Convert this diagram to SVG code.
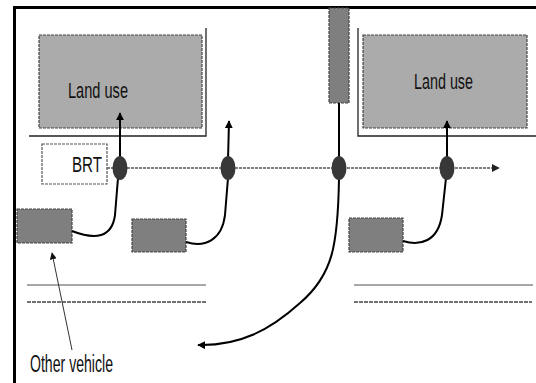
<svg xmlns="http://www.w3.org/2000/svg" width="536" height="383" viewBox="0 0 536 383">
<defs>
<marker id="ah" viewBox="0 0 10 10" refX="9" refY="5" markerWidth="4" markerHeight="4" orient="auto" markerUnits="strokeWidth">
<path d="M0,0 L10,5 L0,10 Z" fill="#000"/>
</marker>
<marker id="ahs" viewBox="0 0 10 10" refX="9" refY="5" markerWidth="7" markerHeight="7" orient="auto" markerUnits="strokeWidth">
<path d="M0,0 L10,5 L0,10 Z" fill="#111"/>
</marker>
<marker id="aht" viewBox="0 0 10 10" refX="9" refY="5" markerWidth="8" markerHeight="8" orient="auto" markerUnits="userSpaceOnUse">
<path d="M0,0 L10,5 L0,10 Z" fill="#222"/>
</marker>
</defs>
<style>
.land{fill:#ababab;stroke:#444;stroke-width:1.2;stroke-dasharray:3 1}
.veh{fill:#7f7f7f;stroke:#444;stroke-width:1.2;stroke-dasharray:3 1}
.dot{fill:#383838}
.lbl{font-family:"Liberation Sans",Arial,sans-serif;fill:#111}
.edge{fill:none;stroke:#000;stroke-width:2}
.thin{fill:none;stroke:#333;stroke-width:1}
.road1{stroke:#8a8a8a;stroke-width:1.5}
.road2{stroke:#444;stroke-width:1.5;stroke-dasharray:4 1}
</style>
<rect width="536" height="383" fill="#fff"/>
<!-- frame -->
<line x1="14" y1="7.5" x2="536" y2="7.5" stroke="#000" stroke-width="3"/>
<line x1="14.5" y1="6" x2="14.5" y2="383" stroke="#000" stroke-width="3"/>

<g id="landuse-left">
<polyline points="206,28 206,136 29,136" fill="none" stroke="#222" stroke-width="1.3"/>
<rect class="land" x="39" y="35" width="163" height="93"/>
<text class="lbl" x="68" y="98" font-size="22" textLength="60" lengthAdjust="spacingAndGlyphs">Land use</text>
</g>
<g id="landuse-right">
<polyline points="358,28 358,136 536,136" fill="none" stroke="#222" stroke-width="1.3"/>
<rect class="land" x="363" y="35" width="164" height="93"/>
<text class="lbl" x="414" y="89" font-size="22" textLength="59" lengthAdjust="spacingAndGlyphs">Land use</text>
</g>
<g id="brt">
<rect x="42" y="144" width="65" height="40" fill="#fff" stroke="#555" stroke-width="1.2" stroke-dasharray="3 1"/>
<text class="lbl" x="72" y="172" font-size="22" textLength="30" lengthAdjust="spacingAndGlyphs">BRT</text>
</g>
<g id="veh-top"><rect class="veh" x="329" y="8" width="20" height="95"/></g>
<g id="veh1"><rect class="veh" x="17" y="209" width="55" height="34"/></g>
<g id="veh2"><rect class="veh" x="132" y="219" width="54" height="33"/></g>
<g id="veh3"><rect class="veh" x="349" y="218" width="54" height="34"/></g>
<g id="roads">
<line class="road1" x1="27" y1="285" x2="206" y2="285"/>
<line class="road2" x1="27" y1="302" x2="206" y2="302"/>
<line class="road1" x1="354" y1="285" x2="533" y2="285"/>
<line class="road2" x1="354" y1="302" x2="532" y2="302"/>
</g>
<g id="connectors">
<line x1="107" y1="168" x2="499" y2="168" stroke="#555" stroke-width="1.5" stroke-dasharray="3 1" marker-end="url(#aht)"/>
<line class="edge" x1="120" y1="160" x2="120" y2="113" marker-end="url(#ah)"/>
<line class="edge" x1="228" y1="160" x2="229" y2="121" marker-end="url(#ah)"/>
<line class="edge" x1="447" y1="160" x2="447" y2="121" marker-end="url(#ah)"/>
<line class="edge" x1="339" y1="103" x2="339" y2="160"/>
<path class="edge" d="M72,231 C95,240 112,238 115,215 L118,178"/>
<path class="edge" d="M186,242 C205,248 222,240 225,215 L228,178"/>
<path class="edge" d="M403,241 C420,246 438,242 442,215 L446,178"/>
<path class="edge" d="M339,178 C338,245 333,275 300,303 C270,330 240,346 198,345" marker-end="url(#ah)"/>
<line class="thin" x1="72" y1="350" x2="52" y2="253" marker-end="url(#ahs)"/>
</g>
<g id="stops">
<ellipse class="dot" cx="120" cy="168" rx="7.5" ry="12"/>
<ellipse class="dot" cx="228" cy="168" rx="7.5" ry="12"/>
<ellipse class="dot" cx="339" cy="168" rx="7.5" ry="12"/>
<ellipse class="dot" cx="447" cy="168" rx="7.5" ry="12"/>
</g>
<g id="label-other">
<text class="lbl" x="30" y="372" font-size="23" textLength="83" lengthAdjust="spacingAndGlyphs">Other vehicle</text>
</g>
</svg>
